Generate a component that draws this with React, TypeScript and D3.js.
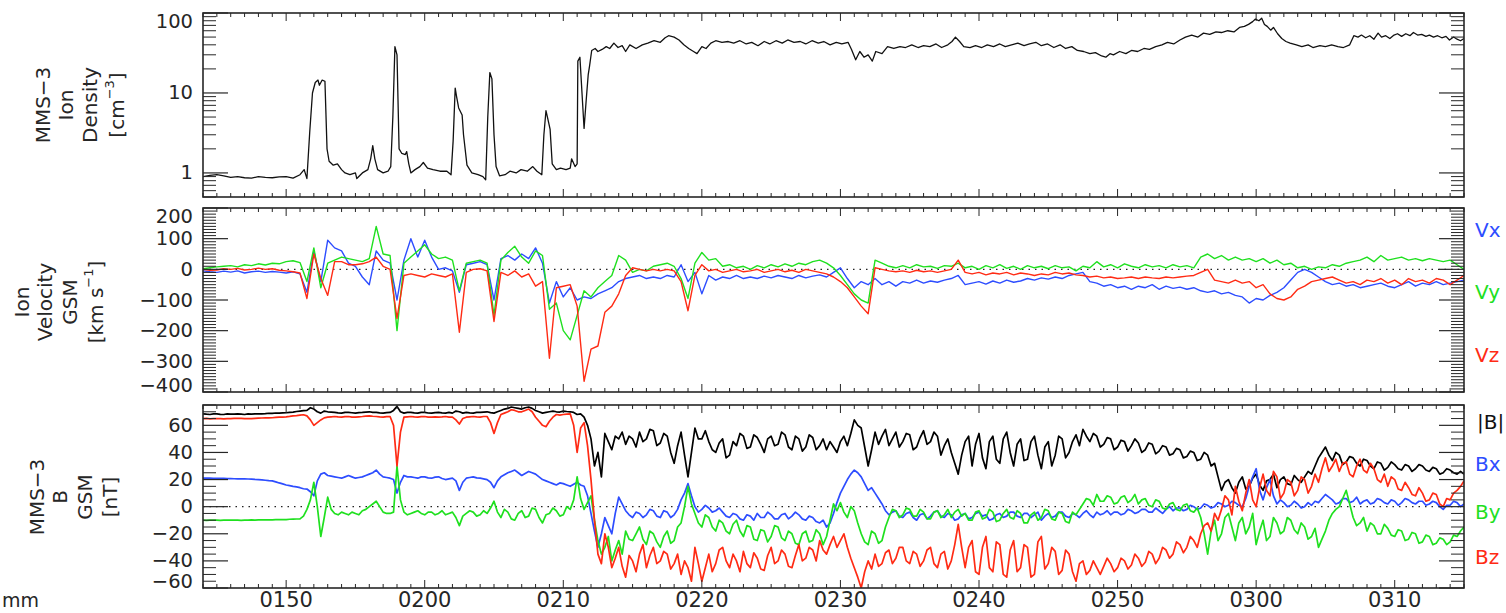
import React from "react";
import * as d3 from "d3";

// ---------- time axis (minutes since 01:44 UT) ----------
const V_STEP_MIN = 0.5; // sampling step of the velocity series
const B_STEP_MIN = 0.25; // sampling step of the field series
const timeTickMinutes = [6, 16, 26, 36, 46, 56, 66, 76, 86];
const timeTickLabels = ["0150", "0200", "0210", "0220", "0230", "0240", "0250", "0300", "0310"];

// ---------- ion density [cm^-3]: [minute, value] ----------
const densitySamples: [number, number][] = [
  [0, 0.9], [0.5, 0.93], [1, 0.95], [1.5, 0.92], [2, 0.88], [2.5, 0.9], [3, 0.87], [3.5, 0.86], [4, 0.9], [4.5, 0.88],
  [5, 0.87], [5.5, 0.89], [6, 0.9], [6.5, 0.86], [7, 0.95], [7.3, 1.1], [7.5, 0.85], [7.7, 3.2], [7.9, 10], [8.1, 13.5],
  [8.3, 14.5], [8.4, 12.5], [8.6, 14.5], [8.8, 14], [8.95, 2.0], [9.1, 1.4], [9.4, 1.25], [9.7, 1.3], [10, 1.1], [10.25, 1.0],
  [10.6, 0.95], [11, 1.0], [11.1, 0.85], [11.5, 1.0], [11.9, 1.1], [12.1, 1.5], [12.25, 2.2], [12.4, 1.5], [12.6, 1.1], [13, 1.0],
  [13.35, 1.05], [13.55, 1.2], [13.7, 5], [13.85, 38], [14, 30], [14.15, 2.0], [14.35, 1.75], [14.6, 1.7], [14.7, 1.85], [14.85, 1.3],
  [15, 1.0], [15.3, 1.1], [15.65, 1.2], [15.9, 1.35], [16.2, 1.15], [16.6, 1.1], [17.1, 1.05], [17.6, 1.05], [17.9, 0.95], [18.05, 2.5],
  [18.2, 11.5], [18.3, 9], [18.45, 6.5], [18.7, 5.3], [18.8, 3], [19.05, 1.25], [19.4, 1.0], [19.85, 0.95], [20.2, 0.9], [20.4, 0.82],
  [20.55, 5], [20.7, 18], [20.85, 15], [21, 3], [21.15, 1.2], [21.4, 0.92], [21.8, 0.95], [22.15, 1.05], [22.6, 1.0], [22.95, 1.1],
  [23.4, 1.05], [23.8, 1.2], [24.1, 1.05], [24.45, 0.95], [24.6, 3], [24.75, 6], [24.9, 4.6], [25.05, 3.5], [25.2, 1.3], [25.5, 1.1],
  [25.8, 1.15], [26.2, 1.1], [26.5, 1.15], [26.6, 1.5], [26.85, 1.2], [27, 1.3], [27.05, 25], [27.2, 28], [27.35, 10], [27.5, 3.6],
  [27.65, 8], [27.8, 17], [27.9, 22], [28.05, 34], [28.3, 36], [28.5, 33], [28.8, 35], [29.1, 38], [29.35, 36], [29.65, 42],
  [29.95, 37], [30.25, 39], [30.5, 33], [30.8, 40], [31.25, 36], [31.7, 40], [32.1, 42], [32.55, 45], [33, 43], [33.35, 49],
  [33.6, 52], [34, 50], [34.35, 46], [34.7, 40], [35.05, 36], [35.4, 33], [35.65, 31], [36, 38], [36.3, 36], [36.65, 42],
  [37, 45], [37.45, 43], [37.9, 44], [38.3, 42], [38.75, 45], [39.2, 41], [39.6, 43], [40.05, 39], [40.5, 44], [40.9, 41],
  [41.35, 45], [41.8, 42], [42.2, 46], [42.65, 43], [43.1, 44], [43.5, 41], [43.95, 45], [44.4, 42], [44.8, 44], [45.25, 40],
  [45.7, 43], [46.1, 41], [46.55, 43], [46.8, 35], [47.1, 26], [47.4, 33], [47.7, 28], [48, 30], [48.3, 25], [48.55, 33],
  [49, 31], [49.4, 38], [49.85, 36], [50.3, 38], [50.7, 37], [51.15, 40], [51.6, 37], [52, 39], [52.45, 38], [52.9, 41],
  [53.3, 37], [53.75, 40], [54.05, 44], [54.3, 50], [54.6, 44], [54.9, 38], [55.35, 37], [55.75, 39], [56.2, 37], [56.6, 40],
  [57.05, 38], [57.5, 41], [57.9, 38], [58.35, 40], [58.8, 42], [59.25, 39], [59.65, 41], [60.1, 43], [60.5, 39], [60.95, 41],
  [61.4, 37], [61.85, 40], [62.25, 36], [62.7, 38], [63.1, 34], [63.55, 33], [64, 31], [64.4, 32], [64.85, 29], [65.15, 28],
  [65.45, 31], [65.7, 30], [66.15, 33], [66.6, 31], [67, 34], [67.45, 33], [67.9, 36], [68.3, 35], [68.75, 38], [69.2, 40],
  [69.6, 43], [70.05, 41], [70.5, 46], [70.9, 50], [71.35, 53], [71.8, 50], [72.2, 56], [72.65, 54], [73.1, 58], [73.5, 57],
  [73.95, 60], [74.4, 58], [74.8, 66], [75.15, 68], [75.45, 72], [75.75, 78], [75.95, 84], [76.2, 80], [76.4, 86], [76.6, 72],
  [76.8, 68], [77.05, 61], [77.25, 66], [77.55, 55], [77.85, 48], [78.15, 44], [78.45, 42], [78.9, 40], [79.3, 38], [79.75, 40],
  [80.1, 37], [80.6, 39], [81, 38], [81.45, 40], [81.9, 38], [82.3, 37], [82.75, 40], [83.05, 52], [83.35, 50], [83.6, 53],
  [83.9, 49], [84.2, 52], [84.5, 47], [84.8, 56], [85.05, 50], [85.35, 52], [85.65, 48], [85.95, 53], [86.2, 55], [86.5, 51],
  [86.8, 55], [87.1, 52], [87.35, 57], [87.65, 53], [87.95, 54], [88.25, 51], [88.5, 53], [88.8, 50], [89.1, 52], [89.4, 49],
  [89.7, 51], [89.95, 46], [90.25, 50], [90.5, 47], [90.75, 45], [91, 48],
];

// ---------- ion velocity GSM [km/s], one value every 0.5 min ----------
const vx = [
  -5, -8, -10, -6, -9, -5, -12, -8, -6, -10, -7, -9, -12, -8, -15,
  -75, 60, -40, 95, 70, 60, 20, 10, -25, -50, 60, 30, 20, -100, 30,
  100, 40, 95, 40, 0, 5, -5, -75, 15, 20, 25, 15, -100, 35, 45,
  30, 50, 35, 70, 20, -110, -40, -90, -60, -100, -90, -95, -80, -70, -60,
  -40, -30, -25, -20, -30, -25, -30, -20, -25, 15, -40, -10, -80, -20, -35,
  -25, -30, -20, -30, -25, -30, -22, -28, -20, -25, -30, -20, -28, -22, -18,
  -25, -10, 5, -30, -60, -40, -50, -30, -50, -40, -55, -40, -45, -35, -45,
  -38, -42, -35, -30, -20, -50, -45, -40, -48, -38, -45, -35, -42, -38, -30,
  -35, -28, -32, -25, -30, -20, -15, -10, -40, -45, -55, -50, -60, -55, -65,
  -55, -60, -50, -65, -55, -62, -58, -65, -60, -70, -75, -70, -80, -75, -85,
  -90, -110, -95, -100, -85, -75, -60, -35, -10, 0, -10, -25, -40, -50, -45,
  -55, -50, -60, -55, -50, -45, -55, -60, -50, -40, -55, -45, -50, -40, -50,
  -45, -40, -35,
];
const vy = [
  2, 5, 8, 10, 12, 8, 15, 12, 18, 14, 20, 18, 25, 28, 22,
  -40, 70, -60, 20, 30, 40, 35, 30, 25, 35, 140, 50, 45, -200, 20,
  40, 60, 80, 50, 35, 40, 30, -70, 20, 25, 30, 20, -150, 30, 55,
  75, 40, 20, 60, 45, -130, -110, -200, -230, -150, -70, -90, -60, -40, -20,
  45, 30, -10, 0, -5, 10, 15, 20, 10, -30, -95, 20, 55, 30, 35,
  10, 15, 5, 10, 0, 12, 5, 15, 8, 18, 10, 20, 15, 25, 30,
  20, 5, -20, -50, -80, -100, -110, 30, 20, 10, 5, 12, 5, 15, 8,
  10, 3, 12, 10, 20, 5, 10, 0, 12, 5, 15, 3, 10, 0, 12,
  5, 10, 2, 12, 5, 8, -5, 10, 5, 25, 8, 15, 5, 18, 10,
  5, 15, 8, 12, 5, 15, 8, 12, 5, 40, 50, 35, 45, 30, 40,
  30, 35, 25, 35, 20, 30, 15, 20, 5, 10, 0, 8, 5, 15, 10,
  20, 25, 30, 40, 25, 45, 30, 35, 40, 30, 35, 28, 35, 30, 25,
  30, 15, 0,
];
const vz = [
  0, -3, -2, 2, 0, 3, -2, 0, 4, 0, 2, -3, -5, -8, -12,
  -95, 50, -30, -85, 25, 25, 15, 15, 18, 25, 40, 10, 0, -160, -20,
  -15, -20, -25, -15, -20, -25, -15, -205, -10, 0, 2, -5, -170, -10, -20,
  -5, -25, -15, -55, -40, -290, -60, -55, -50, -120, -365, -260, -250, -140, -120,
  -80, -20, 5, 0, -5, 0, -5, 0, -5, -40, -135, -20, 15, -5, 0,
  -10, -5, 0, -8, -5, 0, -10, -5, 0, -8, -3, -10, 0, -5, -10,
  -15, -25, -40, -60, -90, -120, -145, 5, 0, -5, -8, -5, -10, -3, -8,
  -5, -10, -5, 0, 30, -10, -15, -10, -18, -12, -15, -10, -18, -12, -15,
  -20, -15, -18, -10, -15, -12, -18, -20, -25, -22, -28, -25, -30, -28, -25,
  -30, -25, -28, -30, -25, -28, -25, -22, -20, -10, 0, -35, -40, -45, -35,
  -45, -40, -60, -50, -80, -95, -100, -90, -65, -55, -40, -35, -30, -25, -35,
  -45, -40, -50, -35, -40, -30, -45, -35, -50, -30, -40, -35, -45, -30, -35,
  -50, -35, -20,
];

// ---------- magnetic field GSM [nT], one value every 0.25 min ----------
const bt = [
  68.5, 68.2, 68, 68.4, 68.5, 68.1, 68, 68.4, 68.3, 68.2, 68.5, 68.3, 68, 68.4, 68.2, 68.5, 68.5, 68.4, 68.6, 68.9,
  68.8, 69.1, 69, 69.2, 69.3, 69.6, 69.8, 70.2, 70.5, 70.8, 71, 73, 72, 70, 69, 70.5, 70, 69.8, 69.5, 69.2,
  69, 69.6, 69.5, 69.3, 69, 69.4, 69.5, 69.8, 70, 69.6, 69.5, 69.2, 69, 69.4, 69.5, 71, 74, 70, 69, 69.6,
  69.5, 69.2, 69, 69.6, 69.5, 69.1, 69, 69.4, 69.5, 69.2, 69, 69.5, 69, 70.5, 70, 69, 69.5, 69.2, 69, 69.6,
  69.5, 69.8, 70, 69.4, 69, 70, 71, 72, 72.5, 73.5, 73, 72.5, 72, 73, 73.5, 72.5, 71, 70, 69, 69.5,
  70, 70.5, 70, 69.8, 70.5, 70.2, 70, 69.5, 68, 68.5, 66, 60, 50, 30, 40, 22, 54, 48, 42, 52,
  50, 55, 46, 52, 50, 44, 55, 48, 50, 57, 56, 45, 47, 54, 52, 40, 32, 45, 55, 38, 22, 40, 58, 50,
  50, 56, 48, 42, 40, 47, 50, 36, 38, 48, 45, 54, 52, 43, 44, 53, 51, 46, 40, 50, 52, 45, 46, 55,
  53, 44, 42, 52, 50, 41, 44, 53, 51, 42, 45, 50, 42, 48, 44, 40, 48, 52, 45, 54, 64, 60, 58, 44,
  30, 42, 55, 46, 52, 57, 45, 50, 55, 44, 48, 54, 53, 42, 44, 51, 56, 46, 48, 55, 52, 38, 45, 50,
  40, 32, 24, 38, 48, 52, 30, 46, 54, 36, 28, 48, 52, 35, 32, 50, 55, 40, 30, 46, 50, 34, 35, 48,
  52, 38, 28, 44, 48, 30, 38, 52, 50, 36, 40, 48, 53, 45, 57, 52, 48, 54, 52, 44, 46, 51, 50, 42,
  44, 49, 48, 41, 45, 50, 47, 40, 42, 47, 46, 39, 41, 45, 44, 38, 39, 43, 42, 36, 37, 41, 40, 34,
  35, 40, 38, 30, 32, 22, 12, 18, 20, 14, 10, 18, 22, 13, 15, 21, 24, 16, 12, 19, 20, 24, 14, 20,
  22, 17, 16, 23, 20, 18, 22, 26, 24, 30, 36, 40, 44, 38, 34, 40, 38, 31, 33, 37, 36, 32, 30, 35,
  34, 30, 28, 33, 32, 27, 29, 33, 31, 28, 27, 31, 30, 26, 28, 31, 30, 27, 26, 29, 28, 24, 25, 28,
  27, 25, 24, 26, 24,
];
const bx = [
  21, 21.1, 21, 20.9, 20.8, 20.9, 20.8, 20.7, 20.7, 20.6, 20.5, 20.6, 20.5, 20.4, 20.3, 20.1, 20, 19.8, 19.5, 19.2,
  19, 18.3, 17.5, 16.8, 16, 15.5, 15, 14.6, 14, 13.2, 13, 11, 8, 19, 24, 25, 23, 22.5, 22, 21.5,
  21, 22, 23, 22, 21, 21.5, 22, 23, 24, 25, 27, 24, 22, 21.5, 21, 20, 10, 18, 23, 22,
  22, 21.5, 21, 22, 22, 21.2, 21, 21.8, 22, 20.8, 20, 20.5, 21, 19, 12, 18, 21, 21.5, 22, 21.2,
  21, 20.5, 20, 18, 14, 19, 22, 23.5, 25, 26, 27, 25, 23, 24.5, 26, 25, 24, 22, 20, 19,
  18, 17, 16, 17.5, 17, 16, 15, 16.5, 18, 16, 15, 8, -5, -18, -30, -20, -8, -14, -20, -5,
  7, 2, -3, -6, -8, -4, -5, -8, -6, -2, -3, -7, -8, -3, -4, -8, -6, -2, 5, 10,
  17, 8, 0, -4, -2, 1, -1, -4, -3, -1, -4, -7, -8, -5, -6, -9, -10, -6, -7, -10,
  -5, -8, -8, -4, -6, -9, -9, -6, -5, -9, -7, -4, -6, -9, -10, -7, -8, -11, -12, -10,
  -15, -12, -5, 3, 10, 15, 20, 24, 27, 25, 22, 17, 12, 14, 10, 6, 2, -3, -6, -4,
  -3, -7, -8, -5, -4, -8, -10, -6, -5, -9, -7, -4, -3, -7, -8, -5, -6, -10, -9, -6,
  -5, -9, -8, -5, -4, -7, -6, -10, -9, -6, -5, -8, -7, -4, -4, -7, -8, -5, -5, -8,
  -6, -4, -10, -7, -5, -8, -7, -4, -4, -7, -8, -5, -6, -8, -5, -3, -6, -8, -4, -6,
  -5, -3, -6, -4, -4, -6, -5, -2, -3, -5, -4, -2, -2, -4, -4, -1, -3, -5, -2, 0,
  -3, -1, -1, -3, -2, 1, 0, -2, -1, 2, 1, -1, 0, 3, 2, 0, 1, 4, 3, 1,
  0, 6, 15, 22, 28, 12, 5, 14, 20, 8, 2, 5, 3, 0, 1, 4, 2, -1, 0, 3,
  1, 4, 3, 6, 9, 7, 5, 2, 3, 6, 6, 3, 4, 7, 2, 4, 5, 2, 3, 6,
  5, 3, 2, 5, 4, 1, 3, 6, 5, 3, 2, 4, 4, 1, 2, 4, 3, 0, -2, 1,
  1, 4, 3, 0, 2,
];
const by = [
  -10, -10.1, -10, -9.9, -10, -10.1, -10, -9.9, -10, -10, -10, -10.1, -10, -9.9, -9.8, -9.9, -9.8, -9.7, -9.8, -9.8,
  -9.7, -9.6, -9.5, -9.6, -9.5, -9.3, -9.2, -9.1, -9, -7, -2, 5, 18, 0, -22, -8, 7, -2, -5, -6,
  -4, -5, -6, -4, -5, -6, -3, -2, 0, 2, 4, 0, -4, -5, -5, -4, 30, 5, -4, -6,
  -5, -4, -3, -5, -6, -4, -4, -6, -5, -3, -6, -5, -4, -8, -14, -7, -5, -3, -4, -7,
  -6, -3, -5, -1, 4, -4, -8, -2, -4, -9, -10, -5, -3, -8, -7, -1, -2, -8, -12, -6,
  -5, -1, -3, -7, -6, 0, -2, 5, 22, 6, -2, 3, 8, -10, -25, -35, -30, -22, -40, -32,
  -25, -35, -18, -24, -25, -20, -15, -24, -28, -18, -20, -26, -30, -22, -18, -27, -25, -15, -12, 0,
  15, 2, -5, -12, -15, -6, -8, -15, -18, -10, -12, -18, -20, -13, -10, -18, -22, -14, -15, -24,
  -25, -17, -18, -26, -22, -14, -15, -23, -25, -18, -20, -27, -28, -20, -18, -26, -25, -17, -20, -28,
  -22, -10, 2, -3, 3, -4, -8, 0, -3, -12, -20, -26, -28, -18, -20, -27, -25, -15, -8, -2,
  -3, -8, -6, -1, -2, -7, -7, -2, -4, -9, -9, -4, -3, -8, -6, -2, -8, -4, -2, -7,
  -5, -10, -10, -4, -3, -9, -8, -2, -4, -11, -10, -5, -2, -8, -9, -3, -5, -12, -12, -6,
  -4, -10, -8, -2, -3, -9, -10, -4, -5, -11, -12, -4, -6, -2, 2, 6, 5, 1, 9, 4,
  4, 8, 7, 2, 3, 7, 8, 3, 5, 9, 2, 5, 6, 1, 0, 5, 4, -1, -2, 2,
  3, -2, -3, 1, 2, -3, -4, -1, -8, -20, -35, -18, -10, -25, -20, -8, -5, -15, -25, -12,
  -8, -20, -15, -5, -28, -18, -10, -25, -22, -8, -12, -20, -18, -8, -10, -17, -20, -12, -15, -24,
  -22, -16, -30, -24, -18, -10, -5, -2, 0, 6, 12, 2, -8, -14, -12, -8, -18, -12, -14, -20,
  -20, -13, -16, -21, -22, -17, -18, -25, -24, -19, -20, -27, -26, -21, -22, -28, -27, -23, -24, -28,
  -26, -21, -22, -18, -15,
];
const bz = [
  65, 65.1, 64.8, 64.9, 65, 64.9, 64.8, 65, 65, 65.1, 65.2, 65.1, 65, 64.9, 65, 65.2, 65.3, 65.4, 65.5, 65.5,
  65.6, 65.8, 66, 66.1, 66.3, 66.6, 67, 67.2, 67.5, 67.8, 67, 64, 60, 62, 64, 65.5, 66, 66.3, 66.5, 66.2,
  66, 66.4, 66.5, 66.1, 66, 66.3, 66.5, 66.8, 67, 66.7, 66.5, 66.2, 66, 66.4, 66.5, 60, 30, 55, 66, 66.3,
  66.5, 66.2, 66, 66.4, 66.5, 66.1, 66, 66.3, 66, 66.2, 66.5, 66.1, 66, 64, 61, 65, 66, 66.3, 66.5, 66.2,
  66, 66.5, 66.5, 62, 54, 62, 68, 69, 70, 71.5, 71, 70, 70, 71, 72, 70, 66, 63, 60, 59,
  63, 66, 68, 67.5, 68, 68.3, 68.5, 60, 40, 58, 62, 45, 20, -10, -35, -42, -20, -30, -45, -38,
  -30, -44, -52, -36, -40, -48, -35, -28, -45, -36, -30, -42, -40, -33, -35, -46, -42, -35, -50, -40,
  -45, -55, -30, -42, -55, -45, -35, -48, -42, -32, -30, -40, -45, -35, -40, -48, -33, -42, -45, -34,
  -38, -46, -47, -36, -30, -42, -40, -32, -35, -44, -45, -36, -28, -40, -38, -30, -32, -40, -25, -32,
  -35, -28, -22, -30, -25, -20, -30, -38, -45, -52, -60, -48, -40, -46, -35, -44, -42, -34, -32, -42,
  -38, -30, -30, -40, -42, -33, -35, -44, -40, -32, -30, -42, -45, -35, -33, -46, -40, -28, -13, -30,
  -45, -30, -25, -48, -50, -30, -22, -45, -48, -26, -28, -50, -52, -32, -25, -48, -45, -28, -30, -52,
  -50, -26, -22, -46, -42, -30, -33, -50, -47, -32, -35, -48, -55, -42, -40, -50, -47, -40, -45, -50,
  -44, -38, -42, -48, -45, -38, -40, -46, -43, -35, -38, -44, -41, -33, -35, -42, -38, -30, -32, -38,
  -35, -26, -28, -34, -30, -22, -25, -30, -20, -14, -12, -18, -5, -10, -2, 8, 5, -6, 15, 4,
  -3, 10, 20, 5, 0, 14, 24, 12, 8, 26, 22, 6, 10, 20, 18, 8, 12, 22, 20, 10,
  15, 24, 18, 28, 36, 26, 30, 35, 26, 32, 33, 24, 22, 30, 35, 27, 25, 32, 28, 20,
  18, 24, 15, 22, 20, 13, 12, 18, 14, 9, 8, 14, 10, 4, 5, 10, 9, 2, 0, 6,
  5, 10, 12, 15, 19,
];

// ---------- axis tick values ----------
const densityMajor = [1, 10, 100];
const densityMinor = [0.5, 0.6, 0.7, 0.8, 0.9, 2, 3, 4, 5, 6, 7, 8, 9, 20, 30, 40, 50, 60, 70, 80, 90];
const velocityMajor = [-400, -300, -200, -100, 0, 100, 200];
const fieldMajor = [-60, -40, -20, 0, 20, 40, 60];

const BLUE = "#2d4dff";
const GREEN = "#1fe01f";
const RED = "#ff2b14";
const INK = "#262626";
const FONT = "DejaVu Sans, Liberation Sans, sans-serif";

const X0 = 203;
const X1 = 1464;
const P1 = { top: 13, bottom: 197 };
const P2 = { top: 208, bottom: 392 };
const P3 = { top: 405, bottom: 588 };

const fmt = (v: number) => (v < 0 ? "\u2212" + Math.abs(v) : String(v));

function Frame({ p, x, yScale, major, minor, labels }: any) {
  const MAJ = 25, MIN = 13;
  const xMinor = d3.range(0, 92, 1);
  return (
    <g>
      {minor.map((v: number, i: number) => {
        const y = yScale(v);
        return (
          <g key={"mn" + i}>
            <line x1={X0} x2={X0 + MIN} y1={y} y2={y} stroke={INK} strokeWidth={1} />
            <line x1={X1} x2={X1 - MIN} y1={y} y2={y} stroke={INK} strokeWidth={1} />
          </g>
        );
      })}
      {major.map((v: number, i: number) => {
        const y = yScale(v);
        return (
          <g key={"mj" + i}>
            <line x1={X0} x2={X0 + MAJ} y1={y} y2={y} stroke={INK} strokeWidth={1.2} />
            <line x1={X1} x2={X1 - MAJ} y1={y} y2={y} stroke={INK} strokeWidth={1.2} />
          </g>
        );
      })}
      {xMinor.map((m) => {
        const xx = x(m);
        const isMajor = timeTickMinutes.includes(m);
        const L = isMajor ? 8 : 4;
        return (
          <g key={"xt" + m}>
            <line x1={xx} x2={xx} y1={p.top} y2={p.top + L} stroke={INK} strokeWidth={1} />
            <line x1={xx} x2={xx} y1={p.bottom} y2={p.bottom - L} stroke={INK} strokeWidth={1} />
          </g>
        );
      })}
      {labels &&
        major.map((v: number, i: number) => {
          const y = Math.max(p.top + 8, Math.min(p.bottom - 7, yScale(v)));
          return (
            <text key={"lb" + i} x={193} y={y} textAnchor="end" dominantBaseline="central"
              fontFamily={FONT} fontSize={19.5} fill={INK}>
              {labels(v)}
            </text>
          );
        })}
      <rect x={X0} y={p.top} width={X1 - X0} height={p.bottom - p.top} fill="none" stroke={INK} strokeWidth={1.6} />
    </g>
  );
}

function Title({ lines, xs, cy }: { lines: React.ReactNode[]; xs: number[]; cy: number }) {
  return (
    <g>
      {lines.map((ln, i) => (
        <text key={i} transform={`translate(${xs[i]},${cy}) rotate(-90)`} textAnchor="middle"
          dominantBaseline="central" fontFamily={FONT} fontSize={20} fill={INK}>
          {ln}
        </text>
      ))}
    </g>
  );
}

export default function App() {
  const x = d3.scaleLinear().domain([0, 91]).range([X0, X1]);
  const yN = d3.scaleLog().domain([0.5, 100]).range([P1.bottom, P1.top]);
  const yV = d3.scaleLinear().domain([-400, 200]).range([P2.bottom, P2.top]);
  const yB = d3.scaleLinear().domain([-60, 75]).range([P3.bottom, P3.top]);

  const lineN = d3.line<[number, number]>().x((d) => x(d[0])).y((d) => yN(d[1]));
  const lv = d3.line<number>().x((_, i) => x(i * V_STEP_MIN)).y((d) => yV(d));
  const lb = d3.line<number>().x((_, i) => x(i * B_STEP_MIN)).y((d) => yB(d));

  const velMinor = d3.range(-400, 201, 10).filter((v) => v % 100 !== 0);
  const bMinor = d3.range(-60, 76, 5).filter((v) => v % 20 !== 0);

  return (
    <svg width={1506} height={613} style={{ position: "absolute", left: 0, top: 0, background: "#fff" }}>
      <defs>
        <clipPath id="c1"><rect x={X0} y={P1.top} width={X1 - X0} height={P1.bottom - P1.top} /></clipPath>
        <clipPath id="c2"><rect x={X0} y={P2.top} width={X1 - X0} height={P2.bottom - P2.top} /></clipPath>
        <clipPath id="c3"><rect x={X0} y={P3.top} width={X1 - X0} height={P3.bottom - P3.top} /></clipPath>
      </defs>
      <rect width={1506} height={613} fill="#fff" />

      {/* Panel 1: density */}
      <g clipPath="url(#c1)">
        <path d={lineN(densitySamples) || ""} fill="none" stroke="#111" strokeWidth={1.3} strokeLinejoin="round" />
      </g>
      <Frame p={P1} x={x} yScale={yN} major={densityMajor} minor={densityMinor} labels={(v: number) => String(v)} />
      <Title
        xs={[43, 66, 90, 117]}
        cy={105}
        lines={[
          "MMS\u22123",
          "Ion",
          "Density",
          <>
            [cm<tspan dy={-8} fontSize={13}>{"\u22123"}</tspan><tspan dy={8}>]</tspan>
          </>,
        ]}
      />

      {/* Panel 2: velocity */}
      <g clipPath="url(#c2)">
        <line x1={X0} x2={X1} y1={yV(0)} y2={yV(0)} stroke="#222" strokeWidth={1.2} strokeDasharray="1.5 5" />
        <path d={lv(vx) || ""} fill="none" stroke={BLUE} strokeWidth={1.4} strokeLinejoin="round" />
        <path d={lv(vy) || ""} fill="none" stroke={GREEN} strokeWidth={1.4} strokeLinejoin="round" />
        <path d={lv(vz) || ""} fill="none" stroke={RED} strokeWidth={1.4} strokeLinejoin="round" />
      </g>
      <Frame p={P2} x={x} yScale={yV} major={velocityMajor} minor={velMinor} labels={fmt} />
      <Title
        xs={[22, 45, 70, 96]}
        cy={302}
        lines={[
          "Ion",
          "Velocity",
          "GSM",
          <>
            [km s<tspan dy={-8} fontSize={13}>{"\u22121"}</tspan><tspan dy={8}>]</tspan>
          </>,
        ]}
      />
      <text x={1475} y={230} dominantBaseline="central" fontFamily={FONT} fontSize={20} fill={BLUE}>Vx</text>
      <text x={1475} y={292} dominantBaseline="central" fontFamily={FONT} fontSize={20} fill={GREEN}>Vy</text>
      <text x={1475} y={355} dominantBaseline="central" fontFamily={FONT} fontSize={20} fill={RED}>Vz</text>

      {/* Panel 3: magnetic field */}
      <g clipPath="url(#c3)">
        <line x1={X0} x2={X1} y1={yB(0)} y2={yB(0)} stroke="#222" strokeWidth={1.2} strokeDasharray="1.5 5" />
        <path d={lb(bt) || ""} fill="none" stroke="#000" strokeWidth={1.7} strokeLinejoin="round" />
        <path d={lb(bx) || ""} fill="none" stroke={BLUE} strokeWidth={1.7} strokeLinejoin="round" />
        <path d={lb(by) || ""} fill="none" stroke={GREEN} strokeWidth={1.7} strokeLinejoin="round" />
        <path d={lb(bz) || ""} fill="none" stroke={RED} strokeWidth={1.7} strokeLinejoin="round" />
      </g>
      <Frame p={P3} x={x} yScale={yB} major={fieldMajor} minor={bMinor} labels={fmt} />
      <Title xs={[37, 60, 85, 110]} cy={497} lines={["MMS\u22123", "B", "GSM", "[nT]"]} />
      <text x={1477} y={422} dominantBaseline="central" fontFamily={FONT} fontSize={20} fill="#111">|B|</text>
      <text x={1475} y={464} dominantBaseline="central" fontFamily={FONT} fontSize={20} fill={BLUE}>Bx</text>
      <text x={1475} y={512} dominantBaseline="central" fontFamily={FONT} fontSize={20} fill={GREEN}>By</text>
      <text x={1475} y={557} dominantBaseline="central" fontFamily={FONT} fontSize={20} fill={RED}>Bz</text>

      {/* time labels */}
      {timeTickMinutes.map((m, i) => (
        <text key={m} x={x(m)} y={607} textAnchor="middle" fontFamily={FONT} fontSize={21} fill={INK}>
          {timeTickLabels[i]}
        </text>
      ))}
      <text x={2} y={607} textAnchor="start" fontFamily={FONT} fontSize={19} fill={INK}>mm</text>
    </svg>
  );
}
